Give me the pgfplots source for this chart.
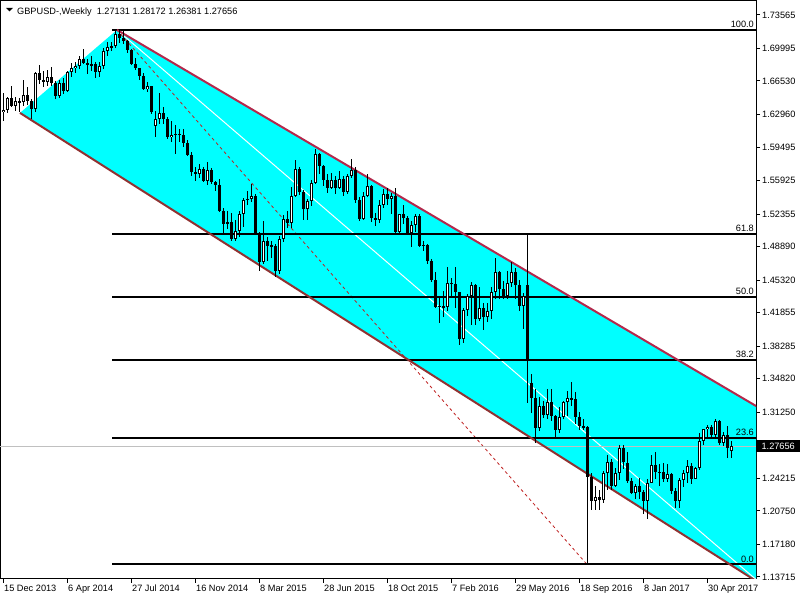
\documentclass[border=0pt]{standalone}
\usepackage{fontspec}
\setmainfont{Liberation Sans}
\usepackage{pgfplots}
\usepackage{pgfplotstable}
\pgfplotsset{compat=1.18}

\definecolor{chcyan}{RGB}{0,255,255}
\definecolor{chup}{RGB}{180,40,75}
\definecolor{chlow}{RGB}{145,50,50}
\definecolor{fibred}{RGB}{190,30,30}
\definecolor{bidgray}{RGB}{192,192,192}

\newcommand{\lbl}{\fontsize{9.2bp}{11bp}\selectfont}

% weekly GBPUSD candles, i = weeks since 15 Dec 2013
\pgfplotstableread{
i o h l c
0 1.6320 1.6520 1.6230 1.6348
1 1.6348 1.6485 1.6310 1.6467
2 1.6467 1.6603 1.6380 1.6385
3 1.6385 1.6480 1.6330 1.6444
4 1.6444 1.6470 1.6325 1.6424
5 1.6424 1.6668 1.6390 1.6500
6 1.6500 1.6590 1.6400 1.6435
7 1.6435 1.6460 1.6252 1.6357
8 1.6357 1.6750 1.6320 1.6733
9 1.6733 1.6823 1.6620 1.6668
10 1.6668 1.6760 1.6590 1.6640
11 1.6640 1.6770 1.6600 1.6700
12 1.6700 1.6800 1.6600 1.6631
13 1.6631 1.6650 1.6460 1.6490
14 1.6490 1.6660 1.6470 1.6629
15 1.6629 1.6680 1.6510 1.6551
16 1.6551 1.6762 1.6540 1.6745
17 1.6745 1.6840 1.6700 1.6789
18 1.6789 1.6850 1.6740 1.6811
19 1.6811 1.6920 1.6780 1.6888
20 1.6888 1.6996 1.6830 1.6844
21 1.6844 1.6890 1.6730 1.6820
22 1.6820 1.6920 1.6760 1.6834
23 1.6834 1.6850 1.6690 1.6746
24 1.6746 1.6850 1.6692 1.6815
25 1.6815 1.7000 1.6780 1.6974
26 1.6974 1.7063 1.6920 1.7011
27 1.7011 1.7064 1.6970 1.7021
28 1.7021 1.7180 1.7000 1.7155
29 1.7155 1.7197 1.7060 1.7111
30 1.7111 1.7190 1.7050 1.7076
31 1.7076 1.7090 1.6950 1.6979
32 1.6979 1.6990 1.6820 1.6832
33 1.6832 1.6900 1.6770 1.6786
34 1.6786 1.6795 1.6660 1.6701
35 1.6701 1.6740 1.6560 1.6566
36 1.6566 1.6645 1.6540 1.6597
37 1.6597 1.6600 1.6300 1.6318
38 1.6170 1.6330 1.6052 1.6243
39 1.6243 1.6525 1.6190 1.6315
40 1.6315 1.6380 1.6200 1.6249
41 1.6249 1.6270 1.6040 1.6055
42 1.6055 1.6225 1.6000 1.6079
43 1.6079 1.6180 1.5875 1.6088
44 1.6088 1.6140 1.6000 1.6081
45 1.6081 1.6140 1.5950 1.5995
46 1.5995 1.6020 1.5850 1.5865
47 1.5865 1.5900 1.5640 1.5679
48 1.5679 1.5740 1.5590 1.5660
49 1.5660 1.5770 1.5620 1.5720
50 1.5720 1.5740 1.5580 1.5588
51 1.5588 1.5786 1.5540 1.5708
52 1.5708 1.5730 1.5560 1.5580
53 1.5580 1.5590 1.5485 1.5543
54 1.5543 1.5610 1.5260 1.5270
55 1.5270 1.5300 1.5035 1.5134
56 1.5134 1.5270 1.5080 1.5151
57 1.5151 1.5250 1.4950 1.4970
58 1.4970 1.5170 1.4952 1.5060
59 1.5060 1.5270 1.4990 1.5235
60 1.5235 1.5405 1.5100 1.5390
61 1.5390 1.5485 1.5330 1.5395
62 1.5395 1.5552 1.5360 1.5433
63 1.5433 1.5450 1.5020 1.5030
64 1.5030 1.5050 1.4633 1.4725
65 1.4725 1.5165 1.4700 1.4945
66 1.4945 1.4990 1.4740 1.4893
67 1.4893 1.4950 1.4765 1.4899
68 1.4899 1.4920 1.4565 1.4627
69 1.4627 1.5000 1.4600 1.4967
70 1.4967 1.5230 1.4940 1.5187
71 1.5187 1.5270 1.5090 1.5145
72 1.5145 1.5523 1.5090 1.5433
73 1.5433 1.5815 1.5420 1.5716
74 1.5716 1.5740 1.5440 1.5476
75 1.5476 1.5490 1.5170 1.5286
76 1.5286 1.5400 1.5170 1.5378
77 1.5378 1.5600 1.5320 1.5570
78 1.5570 1.5930 1.5560 1.5880
79 1.5880 1.5890 1.5660 1.5744
80 1.5744 1.5760 1.5530 1.5603
81 1.5603 1.5660 1.5465 1.5513
82 1.5513 1.5678 1.5500 1.5599
83 1.5599 1.5640 1.5450 1.5512
84 1.5512 1.5690 1.5500 1.5607
85 1.5607 1.5640 1.5430 1.5468
86 1.5468 1.5660 1.5450 1.5640
87 1.5640 1.5819 1.5620 1.5700
88 1.5700 1.5740 1.5350 1.5381
89 1.5381 1.5420 1.5160 1.5187
90 1.5187 1.5470 1.5170 1.5433
91 1.5433 1.5660 1.5420 1.5530
92 1.5530 1.5540 1.5150 1.5196
93 1.5196 1.5250 1.5110 1.5170
94 1.5170 1.5385 1.5140 1.5328
95 1.5328 1.5508 1.5300 1.5450
96 1.5450 1.5510 1.5330 1.5398
97 1.5398 1.5460 1.5240 1.5433
98 1.5433 1.5510 1.5025 1.5040
99 1.5040 1.5240 1.5030 1.5232
100 1.5232 1.5335 1.5130 1.5195
101 1.5195 1.5210 1.5010 1.5038
102 1.5038 1.5160 1.4890 1.5120
103 1.5120 1.5240 1.5040 1.5211
104 1.5211 1.5240 1.4880 1.4899
105 1.4899 1.4950 1.4840 1.4904
106 1.4904 1.4920 1.4700 1.4740
107 1.4740 1.4760 1.4510 1.4531
108 1.4531 1.4620 1.4240 1.4248
109 1.4248 1.4350 1.4080 1.4256
110 1.4256 1.4420 1.4140 1.4246
111 1.4246 1.4670 1.4200 1.4502
112 1.4502 1.4550 1.4350 1.4496
113 1.4496 1.4668 1.4240 1.4402
114 1.4402 1.4410 1.3838 1.3909
115 1.3909 1.4240 1.3860 1.4215
116 1.4215 1.4380 1.4150 1.4364
117 1.4364 1.4516 1.4050 1.4482
118 1.4482 1.4490 1.4055 1.4119
119 1.4119 1.4460 1.4100 1.4231
120 1.4231 1.4290 1.4005 1.4140
121 1.4140 1.4290 1.4090 1.4200
122 1.4200 1.4460 1.4120 1.4403
123 1.4403 1.4770 1.4330 1.4617
124 1.4617 1.4632 1.4330 1.4435
125 1.4435 1.4520 1.4330 1.4365
126 1.4365 1.4630 1.4330 1.4500
127 1.4500 1.4730 1.4460 1.4622
128 1.4622 1.4660 1.4330 1.4480
129 1.4480 1.4530 1.4200 1.4257
130 1.4257 1.4390 1.4010 1.4359
131 1.4480 1.5018 1.3228 1.3679
132 1.3440 1.3535 1.3122 1.3275
133 1.3275 1.3370 1.2798 1.2953
134 1.2953 1.3290 1.2930 1.3188
135 1.3188 1.3250 1.3060 1.3097
136 1.3097 1.3370 1.3050 1.3234
137 1.3234 1.3372 1.3030 1.3082
138 1.3082 1.3100 1.2865 1.2935
139 1.2935 1.3186 1.2905 1.3070
140 1.3070 1.3250 1.3055 1.3232
141 1.3232 1.3350 1.3080 1.3277
142 1.3277 1.3445 1.3190 1.3263
143 1.3263 1.3340 1.3000 1.3072
144 1.3072 1.3130 1.2940 1.2975
145 1.2975 1.3058 1.2940 1.2970
146 1.2970 1.2975 1.1505 1.2431
147 1.2431 1.2475 1.2085 1.2180
148 1.2180 1.2340 1.2085 1.2224
149 1.2224 1.2300 1.2085 1.2189
150 1.2189 1.2500 1.2160 1.2480
151 1.2480 1.2675 1.2300 1.2600
152 1.2600 1.2630 1.2300 1.2344
153 1.2344 1.2530 1.2330 1.2483
154 1.2483 1.2775 1.2400 1.2740
155 1.2740 1.2775 1.2520 1.2590
156 1.2590 1.2700 1.2370 1.2397
157 1.2397 1.2430 1.2250 1.2270
158 1.2270 1.2360 1.2200 1.2341
159 1.2341 1.2430 1.2200 1.2274
160 1.2274 1.2300 1.2040 1.2180
161 1.2180 1.2415 1.1986 1.2370
162 1.2370 1.2675 1.2370 1.2565
163 1.2565 1.2705 1.2410 1.2487
164 1.2487 1.2575 1.2345 1.2490
165 1.2490 1.2580 1.2385 1.2409
166 1.2409 1.2570 1.2380 1.2465
167 1.2465 1.2475 1.2250 1.2290
168 1.2290 1.2320 1.2110 1.2175
169 1.2175 1.2420 1.2110 1.2400
170 1.2400 1.2510 1.2330 1.2476
171 1.2476 1.2615 1.2370 1.2549
172 1.2549 1.2580 1.2360 1.2419
173 1.2419 1.2540 1.2410 1.2536
174 1.2536 1.2905 1.2515 1.2823
175 1.2823 1.2950 1.2780 1.2945
176 1.2945 1.2990 1.2840 1.2971
177 1.2971 1.2990 1.2840 1.2884
178 1.2884 1.3048 1.2860 1.3032
179 1.3032 1.3040 1.2775 1.2798
180 1.2798 1.2915 1.2770 1.2887
181 1.2887 1.2977 1.2635 1.2741
182 1.27131 1.28172 1.26381 1.27656
}\ohlc

\begin{document}
\begin{tikzpicture}
\path[use as bounding box] (0,0) rectangle (800bp,600bp);
\begin{axis}[
  at={(0bp,21bp)}, anchor=south west,
  scale only axis, width=756bp, height=578bp,
  xmin=-0.75, xmax=188.25, ymin=1.13501, ymax=1.75056,
  axis line style={black, line width=1bp},
  tick style={black, line width=1bp},
  tick align=outside, major tick length=4bp,
  xtick pos=bottom, ytick pos=right, yticklabel pos=right,
  xtick={0,16,...,176},
  xticklabels={15 Dec 2013, 6 Apr 2014, 27 Jul 2014, 16 Nov 2014, 8 Mar 2015, 28 Jun 2015, 18 Oct 2015, 7 Feb 2016, 29 May 2016, 18 Sep 2016, 8 Jan 2017, 30 Apr 2017},
  ytick={1.13715,1.17180,1.20750,1.24215,1.31250,1.34820,1.38285,1.41855,1.45320,1.48890,1.52355,1.55925,1.59495,1.62960,1.66530,1.69995,1.73565},
  yticklabels={1.13715,1.17180,1.20750,1.24215,1.31250,1.34820,1.38285,1.41855,1.45320,1.48890,1.52355,1.55925,1.59495,1.62960,1.66530,1.69995,1.73565},
  tick label style={font=\lbl, inner sep=0pt},
  xticklabel style={anchor=north west, xshift=1bp},
  yticklabel style={anchor=west},
  xticklabel shift=2bp, yticklabel shift=2bp,
]
% channel fill
\addplot[fill=chcyan, draw=none] coordinates {(4.25,1.63129) (28.5,1.71968) (189.25,1.31669) (189.25,1.13012)};
% white and dashed fibo trend lines
\addplot[white, line width=1bp] coordinates {(28.5,1.71968) (189.25,1.13075)};
\addplot[fibred, line width=0.8bp, dash pattern=on 3bp off 3bp] coordinates {(28.5,1.71968) (146,1.15045)};
% bid line
\addplot[bidgray, line width=1bp] coordinates {(-1,1.27656) (190,1.27656)};
% fibonacci levels
\addplot[black, line width=2bp] coordinates {(27.25,1.71968) (190,1.71968)};
\addplot[black, line width=2bp] coordinates {(27.25,1.50223) (190,1.50223)};
\addplot[black, line width=2bp] coordinates {(27.25,1.43507) (190,1.43507)};
\addplot[black, line width=2bp] coordinates {(27.25,1.36790) (190,1.36790)};
\addplot[black, line width=2bp] coordinates {(27.25,1.28479) (190,1.28479)};
\addplot[black, line width=2bp] coordinates {(27.25,1.15045) (190,1.15045)};
% channel borders
\addplot[chup, line width=2bp] coordinates {(28.5,1.71968) (189.25,1.31669)};
\addplot[chlow, line width=2bp] coordinates {(4.25,1.63129) (189.25,1.13012)};
% wicks
\addplot[draw=none, mark=none, error bars/.cd, y dir=both, y explicit, error mark=none,
  error bar style={draw=black, solid, line width=1bp}]
  table[x=i, y expr={(\thisrow{h}+\thisrow{l})/2}, y error expr={(\thisrow{h}-\thisrow{l})/2}] {\ohlc};
% bearish bodies
\addplot[draw=none, mark=none, error bars/.cd, y dir=both, y explicit, error mark=none,
  error bar style={draw=black, solid, line width=3bp}]
  table[x=i, y expr={ifthenelse(\thisrow{c}<\thisrow{o},(\thisrow{o}+\thisrow{c})/2,-5)},
    y error expr={max(abs(\thisrow{o}-\thisrow{c})/2,0.0005)}] {\ohlc};
% bullish bodies: outline, then white inside
\addplot[draw=none, mark=none, error bars/.cd, y dir=both, y explicit, error mark=none,
  error bar style={draw=black, solid, line width=3bp}]
  table[x=i, y expr={ifthenelse(\thisrow{c}<\thisrow{o},-5,(\thisrow{o}+\thisrow{c})/2)},
    y error expr={max(abs(\thisrow{o}-\thisrow{c})/2,0.0005)}] {\ohlc};
\addplot[draw=none, mark=none, error bars/.cd, y dir=both, y explicit, error mark=none,
  error bar style={draw=white, solid, line width=1bp}]
  table[x=i, y expr={ifthenelse(\thisrow{c}<\thisrow{o},-5,(\thisrow{o}+\thisrow{c})/2)},
    y error expr={max((\thisrow{c}-\thisrow{o})/2-0.00107,0)}] {\ohlc};
% level labels
\node[anchor=south east, inner xsep=1bp, inner ysep=2bp, font=\lbl] at (axis cs:188.0,1.71968) {100.0};
\node[anchor=south east, inner xsep=1bp, inner ysep=2bp, font=\lbl] at (axis cs:188.0,1.50223) {61.8};
\node[anchor=south east, inner xsep=1bp, inner ysep=2bp, font=\lbl] at (axis cs:188.0,1.43507) {50.0};
\node[anchor=south east, inner xsep=1bp, inner ysep=2bp, font=\lbl] at (axis cs:188.0,1.36790) {38.2};
\node[anchor=south east, inner xsep=1bp, inner ysep=2bp, font=\lbl] at (axis cs:188.0,1.28479) {23.6};
\node[anchor=south east, inner xsep=1bp, inner ysep=2bp, font=\lbl] at (axis cs:188.0,1.15045) {0.0};
\coordinate (bid) at (axis cs:188.25,1.27656);
\end{axis}
\node[anchor=west, fill=black, text=white, inner xsep=5bp, inner ysep=0pt,
  minimum height=12bp, minimum width=44bp, font=\lbl] at (bid) {1.27656};
\fill (6bp,592bp) -- (13bp,592bp) -- (9.5bp,588.5bp) -- cycle;
\node[anchor=base west, inner sep=0pt, font=\lbl] at (17bp,585.7bp) {GBPUSD-,Weekly\ \ 1.27131 1.28172 1.26381 1.27656};
\end{tikzpicture}
\end{document}
